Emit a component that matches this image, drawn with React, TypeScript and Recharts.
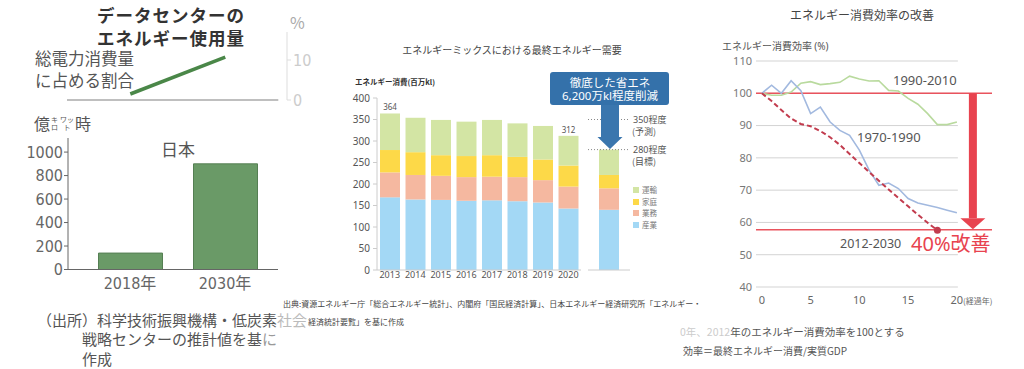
import React from "react";
import {
  BarChart, Bar, LineChart, Line, XAxis, YAxis,
  ReferenceLine, ReferenceDot, LabelList
} from "recharts";

const JP = "'Noto Sans CJK JP', sans-serif";
const NUM = "'Noto Sans', 'Noto Sans CJK JP', sans-serif";
const NARROW = "'Liberation Sans Narrow', 'DejaVu Sans Condensed', 'Noto Sans CJK JP', sans-serif";

// 左: データセンターのエネルギー使用量
const dcYears = [2018, 2030];
const dcShare = [1.5, 10.7]; // 総電力消費量に占める割合(%)
const dcLabels = ["2018年", "2030年"];
const dcUsage = [140, 900]; // 億kWh
const dcTicks = [0, 200, 400, 600, 800, 1000];

// 中: エネルギーミックスにおける最終エネルギー需要
const mixYears = ["2013", "2014", "2015", "2016", "2017", "2018", "2019", "2020"];
const sangyo = [169, 164, 163, 161, 162, 160, 157, 143];
const gyomu = [58, 57, 56, 55, 55, 56, 52, 51];
const katei = [52, 53, 48, 49, 50, 47, 48, 49];
const unyu = [85, 80, 82, 80, 82, 78, 78, 69];
const totalLabels = ["364", "", "", "", "", "", "", "312"];
const target2030 = [140, 50, 31, 59]; // 産業, 業務, 家庭, 運輸
const mixTicks = [0, 50, 100, 150, 200, 250, 300, 350, 400];
const guideValues = [350, 280];
const guideLabels = [["350程度", "(予測)"], ["280程度", "(目標)"]];

const mixSeries = [
  { key: "sangyo", name: "産業", color: "#a3d8f5" },
  { key: "gyomu", name: "業務", color: "#f5b8a0" },
  { key: "katei", name: "家庭", color: "#fdd948" },
  { key: "unyu", name: "運輸", color: "#d3e5a4" },
];

// 右: エネルギー消費効率の改善
const eff7090 = [100, 102.5, 100, 103.9, 100.8, 93.7, 95.7, 91.1, 88.5, 87.0, 82.4, 76.2, 71.5, 72.2, 70.5, 67.4, 66.0, 65.3, 64.6, 63.8, 63.0];
const eff9010 = [100, 99.4, 99.4, 100.4, 103.1, 103.6, 102.7, 103.0, 103.4, 105.3, 104.4, 103.8, 103.9, 100.9, 100.7, 98.4, 96.6, 93.7, 90.3, 90.3, 91.1];
const eff1230 = [100, 97.6, 94.8, 92.2, 90.5, 89.8, 88.3, 86.4, 84.0, 81.2, 78.4, 75.6, 72.9, 70.2, 67.6, 65.0, 62.4, 59.9, 57.6];
const effTicks = [40, 50, 60, 70, 80, 90, 100, 110];
const effXTicks = [0, 5, 10, 15, 20];
const targetLevel = 57.7;

const shareData = dcYears.map((x, i) => ({ x, v: dcShare[i] }));
const usageData = dcLabels.map((name, i) => ({ name, v: dcUsage[i] }));
const mixData = mixYears.map((year, i) => ({
  year, sangyo: sangyo[i], gyomu: gyomu[i], katei: katei[i], unyu: unyu[i], label: totalLabels[i],
}));
const data2030 = [{
  year: "2030(年度)", sangyo: target2030[0], gyomu: target2030[1], katei: target2030[2], unyu: target2030[3],
}];
const toPts = (vals: number[]) => vals.map((v, i) => ({ x: i, v }));

function Txt({ x, y, size, color = "#555", weight = 400, anchor = "start", family = JP, spacing = 0, children }: any) {
  const tx = anchor === "middle" ? "translateX(-50%)" : anchor === "end" ? "translateX(-100%)" : undefined;
  return (
    <div style={{
      position: "absolute", left: x, top: y - size * 0.5, fontSize: size, lineHeight: `${size}px`,
      color, fontWeight: weight, fontFamily: family, whiteSpace: "nowrap", transform: tx, letterSpacing: spacing,
    }}>{children}</div>
  );
}

const EffTick = (props: any) => {
  const { x, y, payload } = props;
  if (payload.value === 20) {
    return (
      <text x={x - 6.5} y={y} dy="0.71em" fontSize={11} fill="#666" fontFamily={NUM}>
        20<tspan fontSize={8} fontFamily={JP}>(経過年)</tspan>
      </text>
    );
  }
  return <text x={x} y={y} dy="0.71em" textAnchor="middle" fontSize={11} fill="#666" fontFamily={NUM}>{payload.value}</text>;
};

export default function App() {
  const lastIdx = eff1230.length - 1;
  return (
    <div style={{ position: "absolute", left: 0, top: 0, width: 1024, height: 369, overflow: "hidden", background: "#fff", fontFamily: JP }}>

      {/* 左上: 割合の折れ線 */}
      <div style={{ position: "absolute", left: 0, top: 0 }}>
        <LineChart width={320} height={120} data={shareData} margin={{ top: 32, right: 3, bottom: 20, left: 67 }}>
          <XAxis type="number" dataKey="x" domain={[2010, 2037.8]} hide />
          <YAxis orientation="right" width={30} domain={[0, 17]} ticks={[0, 10]}
            axisLine={{ stroke: "#ddd" }} tickLine={{ stroke: "#ddd" }} tickSize={4} tickMargin={2}
            tick={{ fontSize: 16, fill: "#ccc", fontFamily: NARROW }} />
          <ReferenceLine segment={[{ x: 2010, y: 0 }, { x: 2036.7, y: 0 }]} stroke="#aaa" strokeWidth={1.5} />
          <Line dataKey="v" stroke="#4a8748" strokeWidth={3.5} dot={false} isAnimationActive={false} />
        </LineChart>
      </div>

      {/* 左下: 使用量の棒 */}
      <div style={{ position: "absolute", left: 0, top: 120 }}>
        <BarChart width={290} height={180} data={usageData} margin={{ top: 18, right: 12, bottom: 5.5, left: 10 }}>
          <XAxis dataKey="name" padding={{ left: 14.5, right: 5.5 }} height={25}
            axisLine={{ stroke: "#666" }} tickLine={false}
            tick={{ fontSize: 16, fill: "#666", fontFamily: NARROW }} />
          <YAxis width={58} domain={[0, 1120]} ticks={dcTicks} axisLine={{ stroke: "#666" }}
            tickLine={{ stroke: "#666" }} tickSize={4} tickMargin={1}
            tick={{ fontSize: 16, fill: "#666", fontFamily: NARROW }} />
          <Bar dataKey="v" fill="#6a9a67" stroke="#557f53" barSize={64} isAnimationActive={false} />
        </BarChart>
      </div>

      <Txt x={171} y={15} size={17.5} weight={700} color="#333" anchor="middle" spacing={1}>データセンターの</Txt>
      <Txt x={171} y={38} size={17.5} weight={700} color="#333" anchor="middle" spacing={1}>エネルギー使用量</Txt>
      <Txt x={290} y={22} size={16} color="#aaa">%</Txt>
      <Txt x={35} y={58} size={16.5}>総電力消費量</Txt>
      <Txt x={35} y={80.5} size={16.5}>に占める割合</Txt>
      <div style={{ position: "absolute", left: 34, top: 114, display: "flex", alignItems: "center", color: "#555", fontSize: 16, lineHeight: "18px" }}>
        <span>億</span>
        <span style={{ display: "inline-flex", flexDirection: "column", fontSize: 7, lineHeight: "8px", alignItems: "center", margin: "0 1px" }}><span>キ</span><span>ロ</span></span>
        <span style={{ display: "inline-flex", flexDirection: "column", fontSize: 7, lineHeight: "8px", alignItems: "center", margin: "0 1px" }}><span>ワッ</span><span>ト</span></span>
        <span>時</span>
      </div>
      <Txt x={178} y={148} size={17} anchor="middle">日本</Txt>
      <Txt x={37} y={319} size={15}>（出所）科学技術振興機構・低炭素<span style={{ color: "#bbb" }}>社会</span></Txt>
      <Txt x={82} y={338.5} size={15}>戦略センターの推計値を基<span style={{ color: "#999" }}>に</span></Txt>
      <Txt x={82} y={358} size={15}>作成</Txt>

      {/* 中央: 最終エネルギー需要 */}
      <div style={{ position: "absolute", left: 340, top: 80 }}>
        <BarChart width={245} height={210} data={mixData} margin={{ top: 18, right: 4, bottom: 4, left: 0 }}>
          <XAxis dataKey="year" height={16} axisLine={{ stroke: "#ccc" }} tickLine={false} tickSize={0} tickMargin={2}
            tick={{ fontSize: 9, fill: "#555", fontFamily: NUM }} interval={0} />
          <YAxis width={37} domain={[0, 400]} ticks={mixTicks} axisLine={{ stroke: "#ccc" }}
            tickLine={{ stroke: "#ccc" }} tickSize={4} tickMargin={3}
            tick={{ fontSize: 10, fill: "#555", fontFamily: NUM }} />
          {mixSeries.map((s, i) => (
            <Bar key={s.key} dataKey={s.key} name={s.name} stackId="a" fill={s.color} barSize={20} isAnimationActive={false}>
              {i === mixSeries.length - 1 && (
                <LabelList dataKey="label" position="top" offset={3} fontSize={8} fill="#555" fontFamily={NUM} />
              )}
            </Bar>
          ))}
        </BarChart>
      </div>
      <div style={{ position: "absolute", left: 585, top: 80 }}>
        <BarChart width={90} height={210} data={data2030} margin={{ top: 18, right: 45, bottom: 4, left: 3 }}>
          <XAxis dataKey="year" height={16} axisLine={{ stroke: "#ccc" }} tickLine={false} tickSize={0} tickMargin={2}
            tick={{ fontSize: 9, fill: "#555", fontFamily: NUM }} />
          <YAxis hide domain={[0, 400]} />
          {mixSeries.map((s) => (
            <Bar key={s.key} dataKey={s.key} name={s.name} stackId="a" fill={s.color} barSize={20} isAnimationActive={false} />
          ))}
          {guideValues.map((g, i) => (
            <ReferenceLine key={g} y={g} stroke="#888" strokeDasharray="1 2"
              label={(p: any) => {
                const vb = p.viewBox;
                return (
                  <g>
                    <text x={vb.x + vb.width + 3} y={vb.y + 3} fontSize={9} fill="#555" fontFamily={NUM}>{guideLabels[i][0]}</text>
                    <text x={vb.x + vb.width + 2} y={vb.y + 15} fontSize={9} fill="#555" fontFamily={JP}>{guideLabels[i][1]}</text>
                  </g>
                );
              }} />
          ))}
        </BarChart>
      </div>

      <svg width={1024} height={369} style={{ position: "absolute", left: 0, top: 0 }}>
        <rect x={550} y={72} width={119} height={33} rx={3} fill="#3471aa" />
        <polygon points="601,105 619,105 619,137 622.5,137 610,149 597.5,137 601,137" fill="#3a76ae" />
      </svg>
      <Txt x={610} y={83} size={11.5} color="#fff" anchor="middle">徹底した省エネ</Txt>
      <Txt x={610} y={96} size={11.5} color="#fff" anchor="middle" family={NUM}>6,200万kl程度削減</Txt>

      <Txt x={512} y={50} size={10} color="#444" anchor="middle">エネルギーミックスにおける最終エネルギー需要</Txt>
      <Txt x={355} y={82} size={7.5} color="#333" weight={700}>エネルギー消費(百万kl)</Txt>
      {[...mixSeries].reverse().map((s, i) => (
        <div key={s.key} style={{ position: "absolute", left: 633, top: 186 + i * 11.5, display: "flex", alignItems: "center", fontSize: 7.5, color: "#777", lineHeight: "8px" }}>
          <span style={{ display: "inline-block", width: 6, height: 6, background: s.color, marginRight: 3 }} />
          {s.name}
        </div>
      ))}
      <Txt x={283} y={304} size={8} color="#444">出典:資源エネルギー庁「総合エネルギー統計」、内閣府「国民経済計算」、日本エネルギー経済研究所「エネルギー・</Txt>
      <Txt x={308} y={322} size={8} color="#444">経済統計要覧」を基に作成</Txt>

      {/* 右: エネルギー消費効率 */}
      <div style={{ position: "absolute", left: 700, top: 40 }}>
        <LineChart width={324} height={280} margin={{ top: 21, right: 32, bottom: 8, left: 0 }}>
          <XAxis type="number" dataKey="x" domain={[-0.6, 23.6]} ticks={effXTicks} allowDataOverflow
            axisLine={false} tickLine={false} tickSize={0} tickMargin={9} height={25} tick={<EffTick />} />
          <YAxis type="number" width={56} domain={[40, 110]} ticks={effTicks} axisLine={false} tickLine={false}
            tickSize={0} tickMargin={4} tick={{ fontSize: 11, fill: "#777", fontFamily: NUM }} />
          {effTicks.map((t) => (
            <ReferenceLine key={t} segment={[{ x: -0.6, y: t }, { x: 20.1, y: t }]} stroke="#d3d3d3" />
          ))}
          <ReferenceLine y={100} stroke="#e9535d" strokeWidth={1.5} />
          <ReferenceLine y={targetLevel} stroke="#e9535d" strokeWidth={1.5} />
          <Line data={toPts(eff9010)} dataKey="v" stroke="#b9da9e" strokeWidth={1.6} dot={false} isAnimationActive={false} />
          <Line data={toPts(eff7090)} dataKey="v" stroke="#a2b9df" strokeWidth={1.6} dot={false} isAnimationActive={false} />
          <Line data={toPts(eff1230)} dataKey="v" stroke="#c23c4e" strokeWidth={2} strokeDasharray="5 3"
            isAnimationActive={false}
            dot={(p: any) => p.index === lastIdx
              ? <circle key="end" cx={p.cx} cy={p.cy} r={3.5} fill="#c23c4e" />
              : <g key={p.index} />} />
          <ReferenceLine segment={[{ x: 21.64, y: 100 }, { x: 21.64, y: 61.3 }]} stroke="#e8434f" strokeWidth={8} />
          <ReferenceDot x={21.64} y={57.9} r={0}
            shape={(p: any) => (
              <polygon points={`${p.cx - 12.5},${p.cy - 11} ${p.cx + 12.5},${p.cy - 11} ${p.cx},${p.cy}`} fill="#e8434f" />
            )} />
        </LineChart>
      </div>

      <Txt x={862} y={15} size={12} color="#444" anchor="middle">エネルギー消費効率の改善</Txt>
      <Txt x={722} y={46} size={10} color="#555">エネルギー消費効率 <span style={{ fontFamily: NUM }}>(%)</span></Txt>
      <Txt x={893} y={80} size={13} color="#555" family={NUM}>1990-2010</Txt>
      <Txt x={857} y={137} size={13} color="#555" family={NUM}>1970-1990</Txt>
      <Txt x={840} y={244} size={12.5} color="#555" family={NUM}>2012-2030</Txt>
      <Txt x={911} y={243} size={20} color="#e8434f" family={NUM}>40%<span style={{ fontFamily: JP }}>改善</span></Txt>
      <Txt x={680} y={332} size={10.5} color="#555"><span style={{ color: "#ccc" }}>0年、2012</span>年のエネルギー消費効率を100とする</Txt>
      <Txt x={683} y={351} size={10} color="#555">効率＝最終エネルギー消費/実質GDP</Txt>
    </div>
  );
}
